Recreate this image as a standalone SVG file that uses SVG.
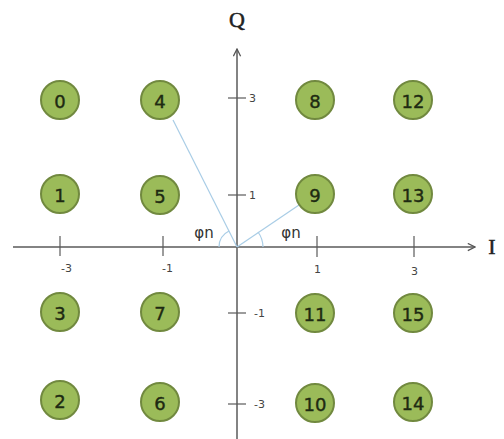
<svg xmlns="http://www.w3.org/2000/svg" width="504" height="439" viewBox="0 0 504 439">
<defs>
<marker id="arr" viewBox="0 0 10 10" refX="9" refY="5" markerWidth="9" markerHeight="9" markerUnits="userSpaceOnUse" orient="auto">
<path d="M1,1 L9,5 L1,9" fill="none" stroke="#555" stroke-width="1.4"/>
</marker>
<style>
.ax{stroke:#5a5a5a;stroke-width:1.5;fill:none}
.tk{stroke:#5a5a5a;stroke-width:1.2}
.tl{font-family:"DejaVu Sans",sans-serif;font-size:11px;fill:#444}
.axl{font-family:"Liberation Serif",serif;font-size:22px;fill:#222;stroke:#222;stroke-width:0.5}
.pt circle{fill:#9bbb59;stroke:#71893f;stroke-width:2}
.pt text{font-family:"DejaVu Sans",sans-serif;font-size:18px;fill:#1e2a12;stroke:#1e2a12;stroke-width:0.4;text-anchor:middle;dominant-baseline:central}
.bl{stroke:#a9cde6;stroke-width:1.2;fill:none}
.phi{font-family:"DejaVu Sans",sans-serif;font-size:15px;fill:#333}
</style>
</defs>
<rect width="504" height="439" fill="#fff"/>
<g id="connectors">
<line class="ax" x1="237" y1="439" x2="237" y2="49" marker-end="url(#arr)"/>
<line class="ax" x1="13" y1="247" x2="475" y2="247" marker-end="url(#arr)"/>
<line class="bl" x1="237" y1="247" x2="173" y2="120"/>
<line class="bl" x1="237" y1="247" x2="299" y2="205"/>
<path class="bl" d="M219,247 A18,18 0 0 1 229,231"/>
<path class="bl" d="M263,247 A26,26 0 0 0 258,232"/>
</g>
<g id="ticks">
<line class="tk" x1="60" y1="236" x2="60" y2="256"/>
<line class="tk" x1="163" y1="236" x2="163" y2="256"/>
<line class="tk" x1="317" y1="236" x2="317" y2="257"/>
<line class="tk" x1="414" y1="236" x2="414" y2="257"/>
<line class="tk" x1="228" y1="98" x2="246" y2="98"/>
<line class="tk" x1="228" y1="195" x2="246" y2="195"/>
<line class="tk" x1="228" y1="313" x2="246" y2="313"/>
<line class="tk" x1="228" y1="404" x2="246" y2="404"/>
<text class="tl" x="61" y="272">-3</text>
<text class="tl" x="162" y="272">-1</text>
<text class="tl" x="314" y="273">1</text>
<text class="tl" x="411" y="275">3</text>
<text class="tl" x="249" y="102">3</text>
<text class="tl" x="249" y="199">1</text>
<text class="tl" x="254" y="317">-1</text>
<text class="tl" x="254" y="408">-3</text>
<text class="axl" x="237" y="27" text-anchor="middle">Q</text>
<text class="axl" x="492" y="254" text-anchor="middle">I</text>
<text class="phi" x="204" y="238" text-anchor="middle">φn</text>
<text class="phi" x="291" y="238" text-anchor="middle">φn</text>
</g>
<g id="n0" class="pt"><circle cx="60" cy="100" r="19"/><text x="60" y="101">0</text></g>
<g id="n4" class="pt"><circle cx="160" cy="100" r="19"/><text x="160" y="101">4</text></g>
<g id="n8" class="pt"><circle cx="315" cy="100" r="19"/><text x="315" y="101">8</text></g>
<g id="n12" class="pt"><circle cx="413" cy="100" r="19"/><text x="413" y="101">12</text></g>
<g id="n1" class="pt"><circle cx="60" cy="194" r="19"/><text x="60" y="195">1</text></g>
<g id="n5" class="pt"><circle cx="160" cy="195" r="19"/><text x="160" y="196">5</text></g>
<g id="n9" class="pt"><circle cx="315" cy="194" r="19"/><text x="315" y="195">9</text></g>
<g id="n13" class="pt"><circle cx="413" cy="194" r="19"/><text x="413" y="195">13</text></g>
<g id="n3" class="pt"><circle cx="60" cy="312" r="19"/><text x="60" y="313">3</text></g>
<g id="n7" class="pt"><circle cx="160" cy="312" r="19"/><text x="160" y="313">7</text></g>
<g id="n11" class="pt"><circle cx="315" cy="313" r="19"/><text x="315" y="314">11</text></g>
<g id="n15" class="pt"><circle cx="413" cy="313" r="19"/><text x="413" y="314">15</text></g>
<g id="n2" class="pt"><circle cx="60" cy="400" r="19"/><text x="60" y="401">2</text></g>
<g id="n6" class="pt"><circle cx="160" cy="402" r="19"/><text x="160" y="403">6</text></g>
<g id="n10" class="pt"><circle cx="315" cy="403" r="19"/><text x="315" y="404">10</text></g>
<g id="n14" class="pt"><circle cx="413" cy="402" r="19"/><text x="413" y="403">14</text></g>
</svg>
